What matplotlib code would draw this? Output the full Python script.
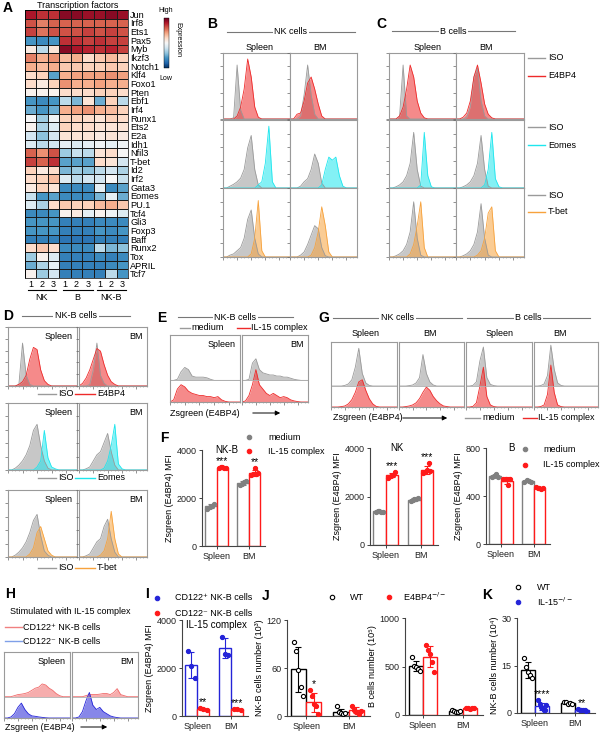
import numpy as np
import matplotlib
matplotlib.use("Agg")
import matplotlib.pyplot as plt
from matplotlib.lines import Line2D
from matplotlib.patches import FancyArrowPatch

plt.rcParams['font.family'] = ['Liberation Sans', 'DejaVu Sans']
plt.rcParams['mathtext.fontset'] = 'dejavusans'
FS = 6.5

# ---------------- data ----------------
GENES = ["Jun", "Irf8", "Ets1", "Pax5", "Myb", "Ikzf3", "Notch1", "Klf4", "Foxo1", "Pten",
         "Ebf1", "Irf4", "Runx1", "Ets2", "E2a", "Idh1", "Nfil3", "T-bet", "Id2", "Irf2",
         "Gata3", "Eomes", "PU.1", "Tcf4", "Gli3", "Foxp3", "Baff", "Runx2", "Tox", "APRIL", "Tcf7"]
GROUPS = ["NK", "B", "NK-B"]
REPS = ["1", "2", "3"]
HEAT = [
    [1.8, 1.6, 1.6, 2.0, 2.0, 1.9, 1.9, 2.0, 1.9],
    [1.4, 1.1, 1.3, 1.3, 1.3, 1.3, 1.3, 1.3, 1.3],
    [1.5, 1.2, 1.4, 1.4, 1.4, 1.5, 1.4, 1.5, 1.4],
    [-1.3, -1.4, -1.3, 1.6, 1.6, 1.5, 1.6, 1.5, 1.5],
    [0.2, -0.6, 0.3, 2.0, 1.8, 1.7, 1.6, 1.7, 1.5],
    [1.1, 0.8, 1.0, 0.7, 0.8, 0.4, 0.6, 0.7, 0.5],
    [0.8, 0.7, 0.8, 0.6, 0.6, 0.5, 0.5, 0.6, 0.5],
    [0.4, 0.5, -1.2, 0.8, 0.9, 0.9, 0.9, 1.0, 0.9],
    [0.4, 0.2, 0.5, 1.0, 0.8, 0.8, 0.9, 0.8, 0.8],
    [0.1, 0.1, 0.1, 0.4, 0.4, 0.4, 0.5, 0.5, 0.4],
    [-1.3, -1.4, -1.3, -0.6, -1.0, 0.3, -1.1, 0.5, -0.6],
    [-1.1, -1.3, -1.1, 0.8, 0.9, 1.0, 0.8, 0.7, 0.5],
    [0.0, -0.8, -0.1, 0.5, 0.5, 0.4, 0.3, 0.5, 0.4],
    [0.1, -0.7, -0.3, 0.5, 0.4, 0.4, 0.3, 0.3, 0.3],
    [-0.4, -0.9, -0.4, 0.3, 0.3, 0.3, 0.2, 0.3, 0.2],
    [-0.3, -0.6, -0.4, -0.2, -0.3, -0.2, -0.1, -0.2, -0.1],
    [1.3, 1.0, 1.4, -0.8, -0.5, -0.6, 0.3, 0.4, 0.0],
    [1.5, 1.3, 1.6, -1.2, -1.2, -1.2, 0.4, 0.3, -0.4],
    [0.5, 0.2, 0.4, -1.0, -0.8, -0.9, -0.6, -0.4, -0.7],
    [0.4, 0.5, 0.7, -0.3, -0.6, -0.4, -0.4, 0.0, -0.5],
    [0.2, 0.5, 0.3, -1.4, -1.4, -1.4, -0.2, -1.4, -1.2],
    [-0.5, -1.3, -1.2, -1.4, -1.4, -1.4, -1.0, -0.2, -1.1],
    [-0.3, -0.7, 0.4, 0.6, 0.5, 0.5, 0.7, 0.8, 0.6],
    [-1.4, -1.4, -1.3, 0.1, 0.2, -0.2, 0.1, -0.1, -0.3],
    [-1.3, -1.3, -1.3, -1.5, -1.5, -1.5, -1.4, -1.4, -1.4],
    [-1.3, -1.3, -1.3, -1.5, -1.5, -1.5, -1.3, -1.4, -1.3],
    [-1.5, -1.5, -1.5, -1.6, -1.6, -1.6, -1.5, -1.5, -1.5],
    [0.4, 0.6, 0.4, -1.4, -1.4, -1.4, -0.6, -1.0, -0.9],
    [-0.8, 0.1, -0.3, -1.5, -1.5, -1.5, -1.4, -1.5, -1.4],
    [-1.1, -0.7, -0.2, -1.5, -1.5, -1.5, -1.5, -1.4, -1.3],
    [0.1, -0.8, -0.4, -1.5, -1.5, -1.5, -1.5, -0.6, -1.3],
]

NB = 20  # histogram bins (0-10 scale)

# B: NK cells  (iso, stain)
NK_E4BP4_SPL = ([0, 0, 0, 0.2, 9, 1.5], [0, 0, 0, 0, 0.5, 2, 5, 10, 7, 2, 0.3])
NK_E4BP4_BM = ([0, 0, 0, 0.5, 4, 9, 4, 0.8], [0, 0, 0.8, 1, 3, 6, 7, 5, 2.5, 0.5])
NK_EOMES_SPL = ([0, 0, 0.3, 0.6, 1, 1.6, 3, 6.5, 8.5, 3, 0.5], [0, 0, 0, 0, 0, 0, 0, 0, 0, 0, 0.5, 1, 4, 10, 1])
NK_EOMES_BM = ([0, 0, 0, 0.3, 1, 1.5, 3, 5.5, 4, 0.8], [0, 0, 0, 0, 0, 0, 0, 0, 0, 0.5, 3, 5, 4.5, 5, 2, 0.3])
NK_TBET_SPL = ([0, 0, 0.3, 0.5, 1, 1.5, 3, 6, 7.5, 3, 0.5], [0, 0, 0, 0, 0, 0, 0, 0, 0.5, 3, 9, 1])
NK_TBET_BM = ([0, 0, 0, 0.3, 0.8, 2, 3.5, 5, 4.5, 1.5, 0.2], [0, 0, 0, 0, 0, 0, 0.3, 1.5, 4, 8, 5, 0.8])

# C: B cells
B_E4BP4_SPL = ([0, 0, 0, 0.5, 9, 0.5], [0, 0, 0, 0.5, 2, 5, 9, 7, 3, 1, 0.2])
B_E4BP4_BM = ([0, 0, 0, 0.3, 2, 7, 8.5, 3, 0.5], [0, 0, 0.3, 1, 3, 7, 9, 6, 2.5, 0.8, 0.2])
B_EOMES_SPL = ([0, 0, 0.2, 0.5, 1, 2, 4, 9, 3, 0.3], [0, 0, 0, 0, 0, 0, 0, 0, 0, 0.5, 9, 2, 0.2])
B_EOMES_BM = ([0, 0, 0.2, 0.5, 1, 2, 4, 8.5, 3, 0.3], [0, 0, 0, 0, 0, 0, 0, 0, 0.5, 3, 9, 1.5, 0.2])
B_TBET_SPL = ([0, 0, 0.2, 0.5, 1, 2, 4, 8.8, 3, 0.3], [0, 0, 0, 0, 0, 0, 0.5, 2, 5, 8.8, 1.5])
B_TBET_BM = ([0, 0, 0.2, 0.5, 1, 2, 4, 8.5, 3, 0.3], [0, 0, 0, 0, 0, 0, 0.3, 1, 3, 7, 8, 1])

# D: NK-B cells
NKB_E4BP4_SPL = ([0, 0, 0, 0.3, 8, 2, 0.3], [0, 0, 0, 0.3, 0.8, 2, 5, 7.2, 6.8, 3, 1, 0.3])
NKB_E4BP4_BM = ([0, 0, 0, 0.3, 3, 8, 2, 0.5], [0, 0.5, 1.5, 3, 5, 7, 6.5, 4, 2, 0.8, 0.3])
NKB_EOMES_SPL = ([0, 0, 0.3, 0.8, 1.5, 2.5, 4, 6.5, 7.5, 4, 1.5, 0.3], [0, 0, 0, 0, 0, 0, 0, 0, 0.5, 1.5, 6.5, 2, 0.5, 0.2])
NKB_EOMES_BM = ([0, 0, 0.2, 0.5, 1.5, 2.5, 3, 4.5, 6, 3, 0.8], [0, 0, 0, 0, 0, 0, 0, 0.3, 1.5, 4, 7.5, 1, 0.2])
NKB_TBET_SPL = ([0, 0, 0.3, 0.8, 1.5, 2.5, 4, 6, 7, 3.5, 1, 0.3], [0, 0, 0, 0, 0, 0, 0.5, 1.5, 4, 5, 3, 1, 0.3])
NKB_TBET_BM = ([0, 0, 0.2, 0.5, 1.5, 2.5, 3, 5, 6.2, 3, 0.8], [0, 0, 0, 0, 0, 0, 0.3, 1, 3, 7.5, 3, 0.5])

# E / G / H: offset histograms (medium or CD122+ on top, treated or CD122- below)
E_SPL = ([0, 0, 0.5, 4, 6, 5, 2, 1.5, 1.5, 1.5, 1.2, 0.5], [0, 1, 6, 8, 7, 5, 4, 3.5, 3, 3, 2.5, 2.5, 2, 2.5, 1, 0.3])
E_BM = ([0, 0, 0.5, 8, 10, 5, 3.5, 3, 2.5, 2.5, 2, 2, 1.5, 1.5, 1, 0.5, 0.2], [0, 0.5, 3, 8, 15, 8, 6, 4, 3, 4, 3, 2, 2.5, 2, 1, 0.5, 0.2])
G_NK_SPL = ([0, 0, 0, 0, 0.3, 1, 3, 9, 18, 6, 1.5, 0.3], [0, 0, 0, 0.2, 0.5, 1.5, 3.5, 7, 12, 13, 8, 4, 1.5, 0.3])
G_NK_BM = ([0, 0, 0, 0.2, 0.5, 1.5, 4, 15, 6, 2, 0.5], [0, 0, 0.2, 0.5, 1, 2, 4, 7, 9.5, 8, 5, 3, 1.5, 0.5, 0.2])
G_B_SPL = ([0, 0, 0.3, 2, 12, 18.6, 4, 0.8, 0.2], [0, 0, 0.3, 2, 10, 19, 5, 1, 0.2])
G_B_BM = ([0, 0, 0.2, 1, 5, 19.5, 8, 1.5, 0.3], [0, 0, 0.2, 1, 6, 20, 7, 1, 0.2])
H_SPL = ([0, 0, 0, 0.5, 1, 1.2, 1.5, 2, 3, 4, 4.5, 6, 5.5, 4, 3, 1.5, 0.5], [0, 0, 0.5, 2, 5, 7, 4, 2, 1, 0.8, 0.5, 0.3, 0.1])
H_BM = ([0, 0, 0, 0, 0.5, 1, 1, 1, 1.2, 1.5, 1.5, 1, 2, 3.8, 1, 0.5], [0, 0, 0.5, 3, 8, 12, 6, 4, 5, 3, 2, 1, 0.5, 0.2])

# F: Zsgreen (E4BP4) MFI, medium vs IL-15 complex
F_NKB_SPL = ([1550, 1620, 1680, 1750], [3230, 3280, 3300, 3260, 3250])
F_NKB_BM = ([2550, 2600, 2650, 2700], [2950, 3000, 3250, 3000, 3050])
F_NK_SPL = ([1380, 1400, 1420, 1380, 1370], [2780, 2850, 2900, 3000])
F_NK_BM = ([1800, 1850, 1900, 1880, 1950], [2950, 3000, 3100, 3400, 3050])
F_B_SPL = ([555, 570, 580, 560], [540, 545, 490, 540])
F_B_BM = ([520, 530, 525, 520], [475, 470, 465, 460, 470])

# I: CD122+ vs CD122- NK-B cells MFI
I_SPL = ([2700, 2100, 1600], [350, 300, 250])
I_BM = ([3300, 2600, 2550], [300, 280, 250])

# J: WT vs E4BP4-/-
J_NKB_SPL = ([92, 81, 57, 36, 25], [33, 25, 15, 12, 2])
J_NKB_BM = ([12, 5, 4, 3, 4], [13, 8, 5, 3, 6])
J_B_SPL = ([595, 510, 490, 470, 455], [720, 670, 630, 550, 440])
J_B_BM = ([50, 40, 35, 30, 45], [75, 70, 65, 72, 68])

# K: WT vs IL-15-/-
K_SPL = ([17.5, 14.5, 13, 12, 11], [4, 3, 2, 1.5, 1, 0.8, 2.5])
K_BM = ([3.5, 3.5, 3, 3.2, 2.8], [1.2, 1.0, 0.9, 0.8, 1.1, 0.7])

TISSUES = ["Spleen", "BM"]

GRAY = '#9a9a9a'
RED = '#ee2a2a'
CYAN = '#1ee6ee'
ORANGE = '#f7a23c'
BLUE = '#2424d8'
DOTRED = '#ff1a1a'

# ---------------- figure helpers ----------------
W, H = 602, 733
fig = plt.figure(figsize=(W / 100, H / 100), dpi=100)


def fx(x):
    return x / W


def fy(y):
    return 1 - y / H


def px_axes(x0, y0, x1, y1):
    return fig.add_axes([fx(x0), fy(y1), (x1 - x0) / W, (y1 - y0) / H])


def ftext(x, y, s, size=FS, ha='left', va='center', **kw):
    return fig.text(fx(x), fy(y), s, fontsize=size, ha=ha, va=va, **kw)


def fline(x0, x1, y, color='#555555', lw=0.8):
    fig.add_artist(Line2D([fx(x0), fx(x1)], [fy(y), fy(y)], color=color, lw=lw,
                          transform=fig.transFigure))


def fdot(x, y, color, filled=True):
    fig.add_artist(Line2D([fx(x)], [fy(y)], marker='o', ms=3.2, lw=0,
                          mfc=color if filled else 'white', mec=color, mew=0.8,
                          transform=fig.transFigure))


def farrow(x0, x1, y):
    fig.add_artist(FancyArrowPatch((fx(x0), fy(y)), (fx(x1), fy(y)), arrowstyle='-|>',
                                   mutation_scale=7, lw=0.7, color='k',
                                   transform=fig.transFigure))


def header(x0, x1, y, s):
    fline(x0, x1, y, color='#777777')
    ftext((x0 + x1) / 2, y, s, ha='center',
          bbox=dict(facecolor='white', edgecolor='none', pad=1.2))


def letter(x, y, s):
    ftext(x, y, s, size=10, weight='bold')


def pad(v):
    return np.array(list(v) + [0] * (NB - len(v)), float)


def hist_panel(rect, curves, label=None, offset=False):
    ax = px_axes(*rect)
    x = np.arange(NB)
    for vals, color, base in curves:
        y = pad(vals) / 10.0
        ax.fill_between(x, base, base + y, color=color, alpha=0.55, lw=0)
        ax.plot(x, base + y, color=color, lw=0.6)
    ax.set_xlim(0, NB - 1)
    if offset:
        ax.set_ylim(0, 3.1)
        ax.axhline(1, color='#b0b0b0', lw=0.6)
    else:
        ax.set_ylim(0, 1.1)
    ax.set_xticks(np.arange(0, NB, 4))
    ax.set_xticks(np.arange(0, NB, 1), minor=True)
    ax.set_xticklabels([])
    ax.set_yticks([])
    if not offset:
        ax.set_yticks(np.linspace(0, 1.1, 6))
        ax.set_yticklabels([])
    ax.tick_params(which='major', length=2, width=0.5, color='#666666', direction='out')
    ax.tick_params(which='minor', length=1, width=0.4, color='#888888')
    for sp in ax.spines.values():
        sp.set_color('#9a9a9a')
        sp.set_linewidth(0.8)
    if label:
        ax.text(0.94, 0.92, label, transform=ax.transAxes, ha='right', va='top', fontsize=FS)
    return ax


BW = 0.36


def bar_panel(rect, groups, colors, filled, ylim, yticks, ylabel, stars=None, title=None):
    ax = px_axes(*rect)
    for gi, pair in enumerate(groups):
        for ci, dots in enumerate(pair):
            dots = np.array(dots, float)
            xc = gi + (ci - 0.5) * BW
            m, s = dots.mean(), dots.std(ddof=1)
            ax.bar(xc, m, width=BW, facecolor='white', edgecolor=colors[ci], lw=1.0, zorder=2)
            ax.errorbar(xc, m, yerr=s, color=colors[ci], capsize=2, lw=0.8, capthick=0.8, zorder=3)
            xs = xc + np.linspace(-0.28, 0.28, len(dots)) * BW
            ax.scatter(xs, dots, s=9, facecolor=colors[ci] if filled[ci] else 'white',
                       edgecolor=colors[ci], lw=0.8, zorder=4)
            if stars and ci == 1 and stars[gi]:
                top = max(dots.max(), m + s)
                ax.text(xc, top + ylim[1] * 0.01, stars[gi], ha='center', va='bottom', fontsize=7.5)
    ax.set_xlim(-0.45, 1.5)
    ax.set_ylim(*ylim)
    ax.set_yticks(yticks)
    ax.set_yticklabels([str(t) for t in yticks], fontsize=FS)
    ax.set_xticks([0, 1])
    ax.set_xticklabels(TISSUES, fontsize=FS)
    ax.tick_params(length=2.5, width=0.6, pad=1.5, colors='#222222')
    ax.spines[['top', 'right']].set_visible(False)
    for sp in ['left', 'bottom']:
        ax.spines[sp].set_color('#444444')
        ax.spines[sp].set_linewidth(0.8)
    ax.set_ylabel(ylabel, fontsize=FS, labelpad=2)
    if title:
        ax.text(0.4, 1.0, title, transform=ax.transAxes, ha='center', va='center', fontsize=FS + 0.5)
    return ax


# ---------------- A: heatmap ----------------
letter(3, 8, "A")
ax = px_axes(25, 10, 128, 278)
mesh = ax.pcolormesh(np.array(HEAT), cmap='RdBu_r', vmin=-2.2, vmax=2.2,
                     edgecolors='#1a1a1a', linewidth=0.4)
ax.set_ylim(len(GENES), 0)
ax.yaxis.tick_right()
ax.set_yticks(np.arange(len(GENES)) + 0.5)
ax.set_yticklabels(GENES, fontsize=6.6)
ax.set_xticks(np.arange(9) + 0.5)
ax.set_xticklabels(REPS * 3, fontsize=FS)
ax.tick_params(length=0, pad=1.5)
for sp in ax.spines.values():
    sp.set_linewidth(0.5)
ftext(78, 5, "Transcription factors", ha='center')
for (x0, x1, xc), g in zip([(28, 56, 42), (63, 93, 77), (97, 126, 111)], GROUPS):
    fline(x0, x1, 290, color='k', lw=0.8)
    ftext(xc, 297, g, ha='center')
cax = px_axes(164, 18, 169, 68)
cb = fig.colorbar(mesh, cax=cax)
cb.set_ticks([])
cb.outline.set_linewidth(0.3)
ftext(166, 10, "High", size=5, ha='center')
ftext(166, 79, "Low", size=5, ha='center')
ftext(178, 40, "Expression", size=5, ha='center', rotation=270)

# ---------------- B and C: NK and B cells ----------------
ROW_Y = [(53, 119), (120, 188), (188, 257)]
STAIN_COLORS = [RED, CYAN, ORANGE]
letter(207, 24, "B")
header(227, 355, 32, "NK cells")
ftext(260, 48, "Spleen", ha='center')
ftext(320, 48, "BM", ha='center')
for (y0, y1), color, (spl, bm) in zip(ROW_Y, STAIN_COLORS,
                                      [(NK_E4BP4_SPL, NK_E4BP4_BM), (NK_EOMES_SPL, NK_EOMES_BM),
                                       (NK_TBET_SPL, NK_TBET_BM)]):
    hist_panel((223, y0, 290, y1), [(spl[0], GRAY, 0), (spl[1], color, 0)])
    hist_panel((290, y0, 357, y1), [(bm[0], GRAY, 0), (bm[1], color, 0)])

letter(376, 24, "C")
header(392, 515, 31, "B cells")
ftext(428, 48, "Spleen", ha='center')
ftext(486, 48, "BM", ha='center')
for (y0, y1), color, (spl, bm) in zip(ROW_Y, STAIN_COLORS,
                                      [(B_E4BP4_SPL, B_E4BP4_BM), (B_EOMES_SPL, B_EOMES_BM),
                                       (B_TBET_SPL, B_TBET_BM)]):
    hist_panel((389, y0, 456, y1), [(spl[0], GRAY, 0), (spl[1], color, 0)])
    hist_panel((456, y0, 524, y1), [(bm[0], GRAY, 0), (bm[1], color, 0)])
for (ya, yb), color, name in zip([(58, 76), (127, 145), (195, 212)], STAIN_COLORS,
                                 ["E4BP4", "Eomes", "T-bet"]):
    fline(528, 545, ya, color=GRAY, lw=1)
    ftext(548, ya, "ISO")
    fline(528, 545, yb, color=color, lw=1)
    ftext(548, yb, name)

# ---------------- D: NK-B cells ----------------
letter(3, 316, "D")
header(22, 130, 316, "NK-B cells")
D_ROWS = [(327, 386, 394), (403, 470, 478), (490, 557, 568)]
for (y0, y1, yl), color, name, (spl, bm) in zip(D_ROWS, STAIN_COLORS, ["E4BP4", "Eomes", "T-bet"],
                                                [(NKB_E4BP4_SPL, NKB_E4BP4_BM),
                                                 (NKB_EOMES_SPL, NKB_EOMES_BM),
                                                 (NKB_TBET_SPL, NKB_TBET_BM)]):
    hist_panel((8, y0, 77, y1), [(spl[0], GRAY, 0), (spl[1], color, 0)], label="Spleen")
    hist_panel((79, y0, 147, y1), [(bm[0], GRAY, 0), (bm[1], color, 0)], label="BM")
    fline(38, 56, yl, color=GRAY, lw=1)
    ftext(58, yl, "ISO")
    fline(75, 95, yl, color=color, lw=1)
    ftext(97, yl, name)

# ---------------- E: NK-B, IL-15 complex ----------------
letter(157, 318, "E")
header(178, 293, 317, "NK-B cells")
fline(180, 190, 328, color=GRAY, lw=1)
ftext(191, 328, "medium")
fline(237, 250, 328, color=RED, lw=1)
ftext(251, 328, "IL-15 complex")
hist_panel((170, 335, 240, 402), [(E_SPL[0], GRAY, 1), (E_SPL[1], RED, 0)], label="Spleen", offset=True)
hist_panel((242, 335, 308, 402), [(E_BM[0], GRAY, 1), (E_BM[1], RED, 0)], label="BM", offset=True)
ftext(170, 413, "Zsgreen (E4BP4)")
farrow(250, 283, 413)

# ---------------- G: NK and B cells, IL-15 complex ----------------
letter(318, 318, "G")
header(333, 462, 318, "NK cells")
header(467, 590, 318, "B cells")
for xc, s in zip([366, 430, 500, 560], ["Spleen", "BM", "Spleen", "BM"]):
    ftext(xc, 334, s, ha='center')
for (x0, x1), (top, bottom) in zip([(331, 397), (399, 464), (466, 532), (534, 598)],
                                   [G_NK_SPL, G_NK_BM, G_B_SPL, G_B_BM]):
    hist_panel((x0, 342, x1, 407), [(top, GRAY, 1), (bottom, RED, 0)], offset=True)
ftext(333, 418, "Zsgreen (E4BP4)")
farrow(400, 450, 418)
fline(465, 480, 418, color=GRAY, lw=1)
ftext(482, 418, "medium")
fline(523, 537, 418, color=RED, lw=1)
ftext(538, 418, "IL-15 complex")

# ---------------- F: MFI bars ----------------
letter(160, 438, "F")
ylab_mfi = "Zsgreen (E4BP4) MFI"
bar_panel((202, 450, 265, 546), [F_NKB_SPL, F_NKB_BM], ['#808080', DOTRED], [True, True],
          (0, 4000), [0, 2000, 4000], ylab_mfi, stars=["***", "**"], title="NK-B")
bar_panel((370, 448, 438, 545), [F_NK_SPL, F_NK_BM], ['#808080', DOTRED], [True, True],
          (0, 4000), [0, 2000, 4000], ylab_mfi, stars=["***", "***"], title="NK")
bar_panel((486, 448, 550, 544), [F_B_SPL, F_B_BM], ['#808080', DOTRED], [True, True],
          (0, 800), [0, 400, 800], ylab_mfi, title="B")
fdot(249, 437, '#808080')
ftext(268, 437, "medium")
fdot(249, 451, DOTRED)
ftext(268, 451, "IL-15 complex")
fdot(525, 449, '#808080')
ftext(543, 449, "medium")
fdot(525, 465, DOTRED)
ftext(543, 465, "IL-15 complex")

# ---------------- H: CD122+ vs CD122- histograms ----------------
letter(5, 594, "H")
ftext(10, 611, "Stimulated with IL-15 complex")
fline(5, 22, 627, color='#f08080', lw=1)
ftext(23, 627, "CD122⁺ NK-B cells")
fline(5, 22, 641, color='#7f9fe8', lw=1)
ftext(23, 641, "CD122⁻ NK-B cells")
hist_panel((4, 652, 70, 718), [(H_SPL[0], '#f06a6a', 1), (H_SPL[1], BLUE, 0)], label="Spleen", offset=True)
hist_panel((72, 652, 138, 718), [(H_BM[0], '#f06a6a', 1), (H_BM[1], BLUE, 0)], label="BM", offset=True)
ftext(5, 727, "Zsgreen (E4BP4)")
farrow(78, 110, 727)

# ---------------- I ----------------
letter(145, 594, "I")
fdot(157, 598, BLUE)
ftext(175, 598, "CD122⁺ NK-B cells")
fdot(157, 613, DOTRED)
ftext(175, 613, "CD122⁻ NK-B cells")
bar_panel((182, 620, 248, 716), [I_SPL, I_BM], [BLUE, DOTRED], [True, True],
          (0, 4000), [0, 2000, 4000], ylab_mfi, stars=["**", "***"])
ftext(186, 625, "IL-15 complex", size=FS + 0.5)

# ---------------- J ----------------
letter(262, 596, "J")
fdot(332, 597, 'k', filled=False)
ftext(350, 597, "WT")
fdot(389, 597, DOTRED)
ftext(403, 597, r"E4BP4$^{-/-}$")
bar_panel((287, 620, 370, 716), [J_NKB_SPL, J_NKB_BM], ['k', DOTRED], [False, True],
          (0, 120), [0, 60, 120], "NK-B cells number (10³)", stars=["*", ""])
bar_panel((405, 618, 483, 715), [J_B_SPL, J_B_BM], ['k', DOTRED], [False, True],
          (0, 1000), [0, 500, 1000], "B cells number (10⁵)")

# ---------------- K ----------------
letter(482, 595, "K")
fdot(518, 587, 'k', filled=False)
ftext(537, 587, "WT")
fdot(518, 602, BLUE)
ftext(537, 602, r"IL-15$^{-/-}$")
bar_panel((517, 618, 595, 713), [K_SPL, K_BM], ['k', BLUE], [False, True],
          (0, 30), [0, 15, 30], "NK-B cells number (10⁴)", stars=["****", "**"])

fig.savefig("out.png", dpi=100)
